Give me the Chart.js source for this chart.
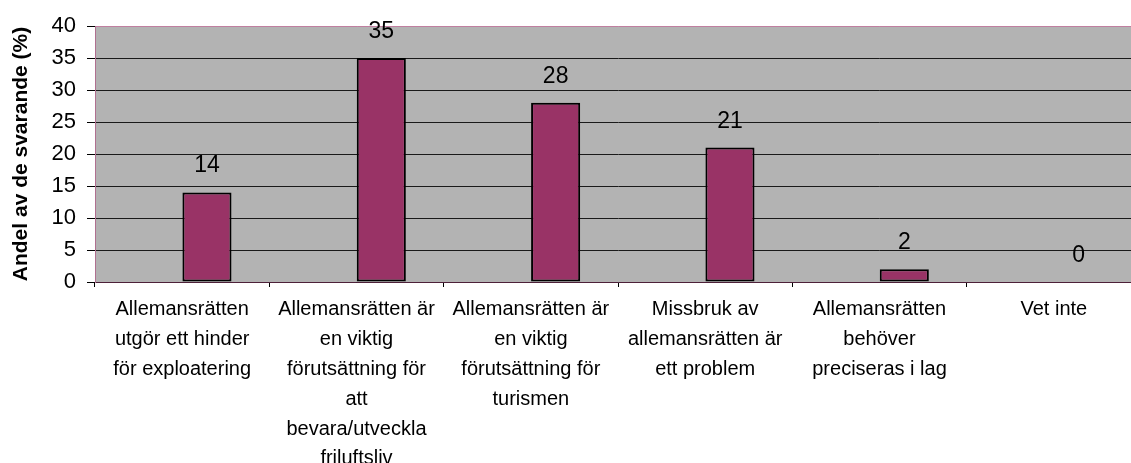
<!DOCTYPE html>
<html>
<head>
<meta charset="utf-8">
<script src="https://cdn.jsdelivr.net/npm/chart.js@4/dist/chart.umd.min.js"></script>
<style>
  body { margin: 0; overflow: hidden; background: #fff; }
</style>
</head>
<body>
<canvas id="Chart" width="1150" height="463"></canvas>
<script>
// svar per påstående, i procent
const categories = [
    ['Allemansrätten', 'utgör ett hinder', 'för exploatering'],
    ['Allemansrätten är', 'en viktig', 'förutsättning för', 'att', 'bevara/utveckla', 'friluftsliv'],
    ['Allemansrätten är', 'en viktig', 'förutsättning för', 'turismen'],
    ['Missbruk av', 'allemansrätten är', 'ett problem'],
    ['Allemansrätten', 'behöver', 'preciseras i lag'],
    ['Vet inte']
];
const shares = [14, 35, 28, 21, 2, 0];
const emptySlot = [null, null, null, null, null, null];
const yMin = 0;
const yMax = 40;
const yStep = 5;
const yTitle = 'Andel av de svarande (%)';

const fontFamily = "'Liberation Sans', Arial, sans-serif";

// grå plottyta bakom staplarna
const plotBackground = {
    id: 'plotBackground',
    beforeDraw(chart) {
        const a = chart.chartArea;
        const c = chart.ctx;
        c.save();
        c.fillStyle = '#b3b3b3';
        c.fillRect(a.left, a.top, a.right - a.left, a.bottom - a.top);
        c.restore();
    }
};

// värdet ovanför varje stapel
const valueLabels = {
    id: 'valueLabels',
    afterDatasetsDraw(chart) {
        const c = chart.ctx;
        const meta = chart.getDatasetMeta(1);
        c.save();
        c.fillStyle = '#000';
        c.font = '23px ' + fontFamily;
        c.textAlign = 'center';
        c.textBaseline = 'alphabetic';
        meta.data.forEach(function (bar, i) {
            c.fillText(String(shares[i]), bar.x, bar.y - 20);
        });
        c.restore();
    }
};

let ctx = document.getElementById('Chart').getContext('2d');
let myChart = new Chart(ctx, {
    type: 'bar',
    data: {
        labels: categories,
        datasets: [{
            data: emptySlot
        }, {
            data: shares,
            backgroundColor: '#993366',
            borderColor: '#000',
            borderWidth: 2,
            borderSkipped: false
        }]
    },
    options: {
        responsive: false,
        animation: false,
        devicePixelRatio: 1,
        categoryPercentage: 0.569,
        barPercentage: 0.99,
        layout: { padding: { top: 26, right: 9, left: 0, bottom: 0 } },
        plugins: {
            legend: { display: false },
            tooltip: { enabled: false }
        },
        scales: {
            x: {
                grid: {
                    drawOnChartArea: false,
                    tickLength: 5,
                    tickColor: '#000'
                },
                border: { color: '#4d2038', width: 1 },
                ticks: {
                    color: '#000',
                    font: { family: fontFamily, size: 20, lineHeight: 1.49 },
                    padding: 8,
                    maxRotation: 0,
                    minRotation: 0,
                    autoSkip: false
                },
                afterFit(scale) { scale.height = 181; }
            },
            y: {
                min: yMin,
                max: yMax,
                ticks: {
                    stepSize: yStep,
                    color: '#000',
                    font: { family: fontFamily, size: 22 },
                    padding: 11
                },
                grid: {
                    color: function (c) {
                        if (c.tick && c.tick.value === yMax) return '#c07fa0';
                        return '#1a1a1a';
                    },
                    tickColor: '#000',
                    tickLength: 8
                },
                border: { color: '#b07090', width: 1 },
                title: {
                    display: true,
                    text: yTitle,
                    color: '#000',
                    font: { family: fontFamily, size: 21, weight: 'bold' },
                    padding: { top: 9, bottom: 0 }
                },
                afterFit(scale) { scale.width = 95; }
            }
        }
    },
    plugins: [plotBackground, valueLabels]
});
</script>
</body>
</html>
